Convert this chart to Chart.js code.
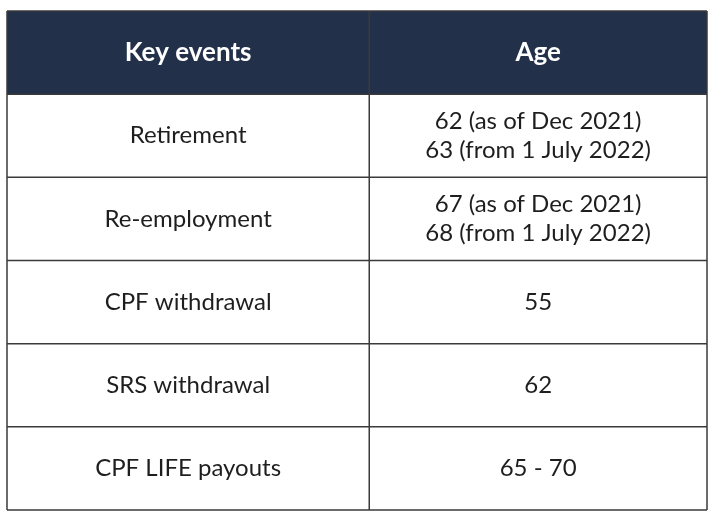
<!DOCTYPE html>
<html><head><meta charset="utf-8">
<script src="https://cdn.jsdelivr.net/npm/chart.js@4"></script>
<style>html,body{margin:0;padding:0;background:#fff}#w{width:715px;height:523px}</style>
</head><body><div id="w"><canvas id="c"></canvas></div>
<script>
const headers = ["Key events", "Age"];
const events = ["Retirement", "Re-employment", "CPF withdrawal", "SRS withdrawal", "CPF LIFE payouts"];
const ages = [["62 (as of Dec 2021)", "63 (from 1 July 2022)"], ["67 (as of Dec 2021)", "68 (from 1 July 2022)"], ["55"], ["62"], ["65 - 70"]];
const colSplit = 1.035;

const tablePlugin = {
  id: 'table',
  afterDraw(chart) {
    const ctx = chart.ctx, x = chart.scales.x, y = chart.scales.y;
    const X0 = x.getPixelForValue(0), X1 = x.getPixelForValue(colSplit), X2 = x.getPixelForValue(2);
    const nRows = events.length + 1;
    ctx.save();
    ctx.fillStyle = '#22304a';
    ctx.fillRect(X0, y.getPixelForValue(0), X2 - X0, y.getPixelForValue(1) - y.getPixelForValue(0));
    ctx.strokeStyle = '#3a3a3a'; ctx.lineWidth = 1.5;
    for (let r = 0; r <= nRows; r++) {
      const py = y.getPixelForValue(r);
      ctx.beginPath(); ctx.moveTo(X0, py); ctx.lineTo(X2, py); ctx.stroke();
    }
    [X0, X1, X2].forEach(px => { ctx.beginPath(); ctx.moveTo(px, y.getPixelForValue(0)); ctx.lineTo(px, y.getPixelForValue(nRows)); ctx.stroke(); });
    ctx.textAlign = 'center'; ctx.textBaseline = 'middle';
    const cx1 = (X0 + X1) / 2, cx2 = (X1 + X2) / 2;
    const cy = r => y.getPixelForValue(r + 0.5);
    ctx.fillStyle = '#fff'; ctx.font = 'bold 26px Lato';
    ctx.fillText(headers[0], cx1, cy(0)); ctx.fillText(headers[1], cx2, cy(0));
    ctx.fillStyle = '#1e1e1e'; ctx.font = '24px Lato';
    events.forEach((e, i) => {
      ctx.fillText(e, cx1, cy(i + 1));
      const lines = ages[i], lh = 29;
      lines.forEach((t, j) => ctx.fillText(t, cx2, cy(i + 1) + (j - (lines.length - 1) / 2) * lh));
    });
    ctx.restore();
  }
};

new Chart(document.getElementById('c'), {
  type: 'scatter',
  data: { datasets: [{ data: [], pointRadius: 0 }] },
  options: {
    responsive: true, maintainAspectRatio: false, animation: false,
    layout: { padding: { left: 7, right: 8, top: 11, bottom: 13 } },
    plugins: { legend: { display: false }, tooltip: { enabled: false } },
    scales: {
      x: { type: 'linear', min: 0, max: 2, display: false },
      y: { type: 'linear', min: 0, max: events.length + 1, reverse: true, display: false }
    }
  },
  plugins: [tablePlugin]
});
</script></body></html>
